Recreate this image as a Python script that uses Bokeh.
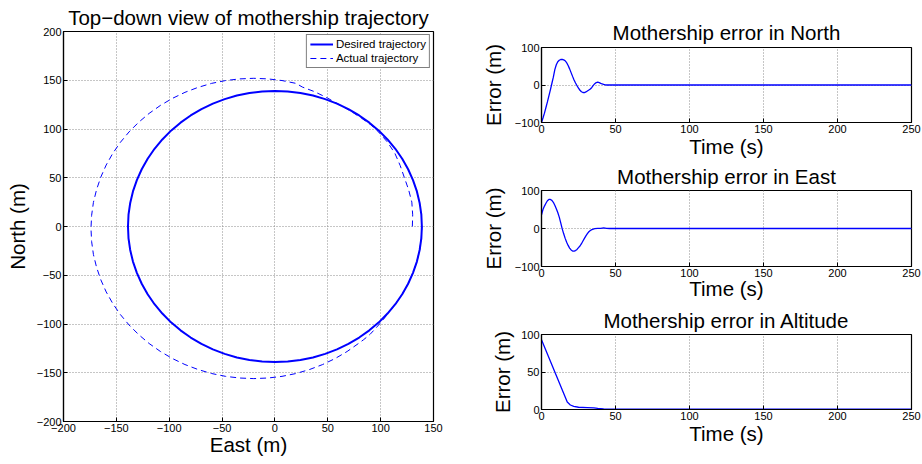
from bokeh.plotting import figure
from bokeh.models import Range1d, FixedTicker
from bokeh.layouts import row, column
from bokeh.embed import file_html
from bokeh.resources import INLINE

FONT = "Liberation Sans"
BIG = "20.5px"
TICK = "11px"
BLUE = "#0000ff"

# ---- data ----
desired_east = [139, 138.5, 136.9, 134.3, 130.6, 126.0, 120.4, 113.9, 106.5, 98.3, 89.3, 79.7, 69.5, 58.7, 47.5, 36.0, 24.1, 12.1, 0,
                -12.1, -24.1, -36.0, -47.5, -58.7, -69.5, -79.7, -89.3, -98.3, -106.5, -113.9, -120.4, -126.0, -130.6, -134.3, -136.9, -138.5, -139,
                -138.5, -136.9, -134.3, -130.6, -126.0, -120.4, -113.9, -106.5, -98.3, -89.3, -79.7, -69.5, -58.7, -47.5, -36.0, -24.1, -12.1, 0,
                12.1, 24.1, 36.0, 47.5, 58.7, 69.5, 79.7, 89.3, 98.3, 106.5, 113.9, 120.4, 126.0, 130.6, 134.3, 136.9, 138.5, 139]
desired_north = [0, 12.1, 24.1, 36.0, 47.5, 58.7, 69.5, 79.7, 89.3, 98.3, 106.5, 113.9, 120.4, 126.0, 130.6, 134.3, 136.9, 138.5, 139,
                 138.5, 136.9, 134.3, 130.6, 126.0, 120.4, 113.9, 106.5, 98.3, 89.3, 79.7, 69.5, 58.7, 47.5, 36.0, 24.1, 12.1, 0,
                 -12.1, -24.1, -36.0, -47.5, -58.7, -69.5, -79.7, -89.3, -98.3, -106.5, -113.9, -120.4, -126.0, -130.6, -134.3, -136.9, -138.5, -139,
                 -138.5, -136.9, -134.3, -130.6, -126.0, -120.4, -113.9, -106.5, -98.3, -89.3, -79.7, -69.5, -58.7, -47.5, -36.0, -24.1, -12.1, 0]

actual_east = [130, 130.3, 129.5, 126.5, 122.5, 118.5, 113.5, 106.5, 98, 90.5, 82, 71.5, 60, 48.5, 37, 26,
               19.9, 6.7, -6.6, -20, -33.4, -46.7, -59.9, -72.7, -85.1, -97, -108.3, -119, -128.9, -138,
               -146.2, -153.4, -159.6, -164.7, -168.7, -171.7, -173.4, -174, -173.4, -171.7, -168.7, -164.7,
               -159.6, -153.4, -146.2, -138, -128.9, -119, -108.3, -97, -85.1, -72.7, -59.9, -46.7, -33.4,
               -20, -6.6, 6.7, 19.9, 32.7, 45.1, 57, 68.3, 79, 84, 90, 96.5, 102.7, 108.5,
               113.9, 120.4, 126.0, 130.6, 134.3, 136.9, 138.5, 139]
actual_north = [0, 12, 25, 37.5, 50, 62.5, 75, 86.5, 97, 104.5, 111, 118.5, 125.5, 132.5, 138.5, 143,
                146.8, 149.7, 151.4, 152, 151.4, 149.7, 146.8, 142.7, 137.6, 131.4, 124.2, 116, 106.9, 97,
                86.3, 75, 63.1, 50.7, 37.9, 24.7, 11.4, -2, -15.4, -28.7, -41.9, -54.7,
                -67.1, -79, -90.3, -101, -110.9, -120, -128.2, -135.4, -141.6, -146.7, -150.8, -153.7, -155.4,
                -156, -155.4, -153.7, -150.8, -146.7, -141.6, -135.4, -128.2, -120, -116, -110.6, -103, -95.2, -87,
                -79.7, -69.5, -58.7, -47.5, -36.0, -24.1, -12.1, 0]

time_n = [0, 1, 2, 3, 4, 5, 6, 7, 8, 9, 10, 11, 12, 13, 14, 15, 16, 17, 18, 19, 20,
          21, 22, 23, 24, 25, 26, 27, 28, 29, 30, 31, 32, 33, 34, 35, 36, 37, 38, 39,
          40, 41, 42, 43, 44, 250]
err_north = [-100, -88, -75, -60, -45, -29, -13, 4, 21, 41, 54, 62, 66, 68, 68.4, 67, 64.5,
             59.5, 52, 43, 33, 23, 13.5, 5.4, -2, -8.5, -14, -18, -20, -20.3, -18.5, -16,
             -13.5, -10.5, -6.5, -1, 3.5, 6.5, 7.5, 6.5, 4.5, 2.7, 1.5, 0.5, 0, 0]

time_e = [0, 1, 2, 3, 4, 5, 5.6, 6, 7, 8, 9, 10, 11, 12, 13, 14, 15, 16, 17, 18, 19, 20,
          21, 22, 23, 24, 25, 26, 27, 28, 29, 30, 31, 32, 33, 34, 35, 36, 38, 40, 42, 44,
          46, 250]
err_east = [36, 50, 59, 66.5, 73, 76.5, 76.7, 76.5, 74, 69, 61, 52, 42, 30, 15, -1, -14,
            -26, -36, -44.5, -51.5, -56.5, -59.3, -59.5, -58, -55, -50.5, -46, -40, -33,
            -26, -19.5, -13.5, -8.5, -5.2, -3, -1.5, -0.5, 0.3, 0.5, 1.5, 0.5, 0, 0]

time_a = [0, 17.4, 19.5, 21.8, 25, 30.9, 35.4, 38, 42, 50, 250]
err_alt = [93, 10, 6, 4.3, 3, 2.6, 2.2, 1.5, 0.8, 0.5, 0.5]

left_xticks = [-200, -150, -100, -50, 0, 50, 100, 150]
left_yticks = [-200, -150, -100, -50, 0, 50, 100, 150, 200]
right_xticks = [0, 50, 100, 150, 200, 250]
ne_yticks = [-100, 0, 100]
alt_yticks = [0, 50, 100]


def lab(v):
    return str(v).replace("-", "\u2212")


def make_fig(w, h, xr, yr, xt, yt, bl, br, bt, bb, title, title_standoff,
             xlabel, xlabel_standoff, ylabel, ylabel_standoff):
    p = figure(width=w, height=h, x_range=Range1d(*xr), y_range=Range1d(*yr),
               output_backend="svg", toolbar_location=None,
               min_border_left=bl, min_border_right=br, min_border_top=bt, min_border_bottom=bb)
    p.background_fill_color = "white"
    p.border_fill_color = "white"
    p.outline_line_color = "black"
    p.outline_line_width = 1.2

    p.title.text = title
    p.title.align = "center"
    p.title.text_font = FONT
    p.title.text_font_size = BIG
    p.title.text_font_style = "normal"
    p.title.text_color = "black"
    p.title.standoff = title_standoff

    p.xaxis.ticker = FixedTicker(ticks=xt)
    p.xaxis.major_label_overrides = {v: lab(v) for v in xt}
    p.yaxis.ticker = FixedTicker(ticks=yt)
    p.yaxis.major_label_overrides = {v: lab(v) for v in yt}
    p.xaxis.axis_label = xlabel
    p.xaxis.axis_label_standoff = xlabel_standoff
    p.yaxis.axis_label = ylabel
    p.yaxis.axis_label_standoff = ylabel_standoff
    for ax in (p.xaxis, p.yaxis):
        ax.axis_line_color = "black"
        ax.axis_line_width = 1.2
        ax.major_tick_in = 4
        ax.major_tick_out = 0
        ax.minor_tick_in = 0
        ax.minor_tick_out = 0
        ax.major_tick_line_color = "black"
        ax.major_label_text_font = FONT
        ax.major_label_text_font_size = TICK
        ax.major_label_text_color = "black"
        ax.major_label_standoff = 2
        ax.axis_label_text_font = FONT
        ax.axis_label_text_font_size = BIG
        ax.axis_label_text_font_style = "normal"
        ax.axis_label_text_color = "black"
    p.grid.grid_line_color = "#8c8c8c"
    p.grid.grid_line_dash = "1 2"
    p.grid.grid_line_width = 1
    return p


# ---- left: top-down view ----
left = make_fig(470, 464, (-200, 150), (-200, 200), left_xticks, left_yticks, 63, 37, 31, 43,
                "Top\u2212down view of mothership trajectory", 6,
                "East (m)", -2, "North (m)", 5)
left.title.offset = 3
left.line(desired_east, desired_north, line_color=BLUE, line_width=2, legend_label="Desired trajectory")
left.line(actual_east, actual_north, line_color=BLUE, line_width=1, line_dash="6 4",
          legend_label="Actual trajectory")
lg = left.legend[0]
lg.location = "top_right"
lg.margin = 3
lg.padding = 3
lg.spacing = 2
lg.label_height = 12
lg.glyph_height = 12
lg.glyph_width = 23
lg.label_standoff = 3
lg.label_text_font = FONT
lg.label_text_font_size = "11.5px"
lg.label_text_color = "black"
lg.border_line_color = "black"
lg.border_line_width = 1.2
lg.background_fill_color = "white"
lg.background_fill_alpha = 1.0

# ---- right: error plots ----
RW = 452
pn = make_fig(RW, 160, (0, 250), (-100, 100), right_xticks, ne_yticks, 71, 11, 47, 37,
              "Mothership error in North", 8, "Time (s)", -1, "Error (m)", 7)
pn.line(time_n, err_north, line_color=BLUE, line_width=1.3)

pe = make_fig(RW, 143, (0, 250), (-100, 100), right_xticks, ne_yticks, 71, 11, 29, 37,
              "Mothership error in East", 5, "Time (s)", -3, "Error (m)", 7)
pe.line(time_e, err_east, line_color=BLUE, line_width=1.3)

pa = make_fig(RW, 161, (0, 250), (0, 100), right_xticks, alt_yticks, 71, 11, 30, 55,
              "Mothership error in Altitude", 6, "Time (s)", -1, "Error (m)", 4)
pa.line(time_a, err_alt, line_color=BLUE, line_width=1.3)

layout = row(left, column(pn, pe, pa, spacing=0), spacing=0)

open("out.html", "w").write(file_html(layout, INLINE))
